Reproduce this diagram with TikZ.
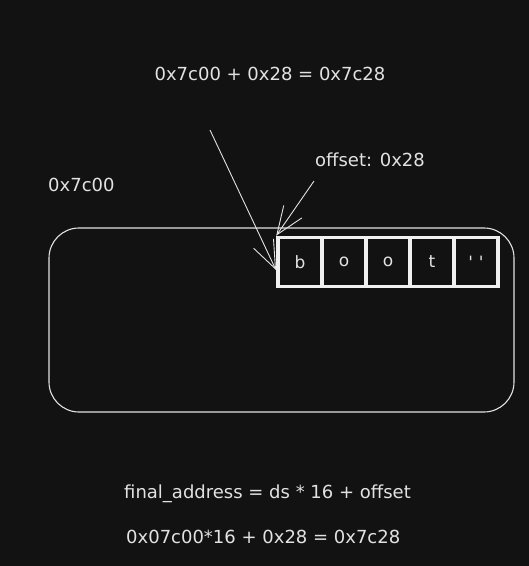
\documentclass[tikz,border=0pt]{standalone}
\usepackage{fontspec}
\setmainfont{DejaVu Sans}
\newfontfamily\plainfont{DejaVu Sans}
\usetikzlibrary{arrows.meta}
\definecolor{bg}{HTML}{121212}
\definecolor{ink}{HTML}{E2E2E2}
\definecolor{boxink}{HTML}{F0F0F0}
\tikzset{
  lbl/.style={text=ink, font=\fontsize{18}{20}\selectfont, inner sep=0pt},
  cell/.style={draw=boxink, line width=3.6pt, minimum width=44pt, minimum height=49pt, inner sep=0pt, text=ink, font=\fontsize{17}{19}\selectfont},
  memory/.style={draw=ink, line width=1.1pt, rounded corners=30pt, minimum width=465pt, minimum height=184pt, inner sep=0pt},
  conn/.style={draw=ink, line width=0.9pt, -{Straight Barb[length=28pt, width=22pt, line width=0.9pt]}}
}
\begin{document}
\begin{tikzpicture}[x=1pt, y=-1pt]
  \fill[bg] (0,0) rectangle (529,566);
  \useasboundingbox (0,0) rectangle (529,566);
  \node[lbl] (sum) at (270,74) {0x7c00 + 0x28 = 0x7c28};
  \node[lbl, anchor=west] (base) at (48,185) {0x7c00};
  \node[lbl, anchor=west] (off) at (315,160) {offset: 0x28};
  \node[memory] (mem) at (281.5,320) {};
  \node[cell] (c1) at (300,262) {b};
  \node[cell] (c2) at (344,262) {o};
  \node[cell] (c3) at (388,262) {o};
  \node[cell] (c4) at (432,262) {t};
  \node[cell] (c5) at (476,262) {{\plainfont '\,\,'}};
  \coordinate (s1) at (210,130);
  \coordinate (t1) at (276,270);
  \coordinate (s2) at (314,181);
  \draw[conn] (s1) -- (t1);
  \draw[conn] (s2) -- (c1.north west);
  \node[lbl, anchor=west] (formula) at (124,494) {final\_address = ds * 16 + offset};
  \node[lbl, anchor=west] (calc) at (126,537) {0x07c00*16 + 0x28 = 0x7c28};
\end{tikzpicture}
\end{document}
